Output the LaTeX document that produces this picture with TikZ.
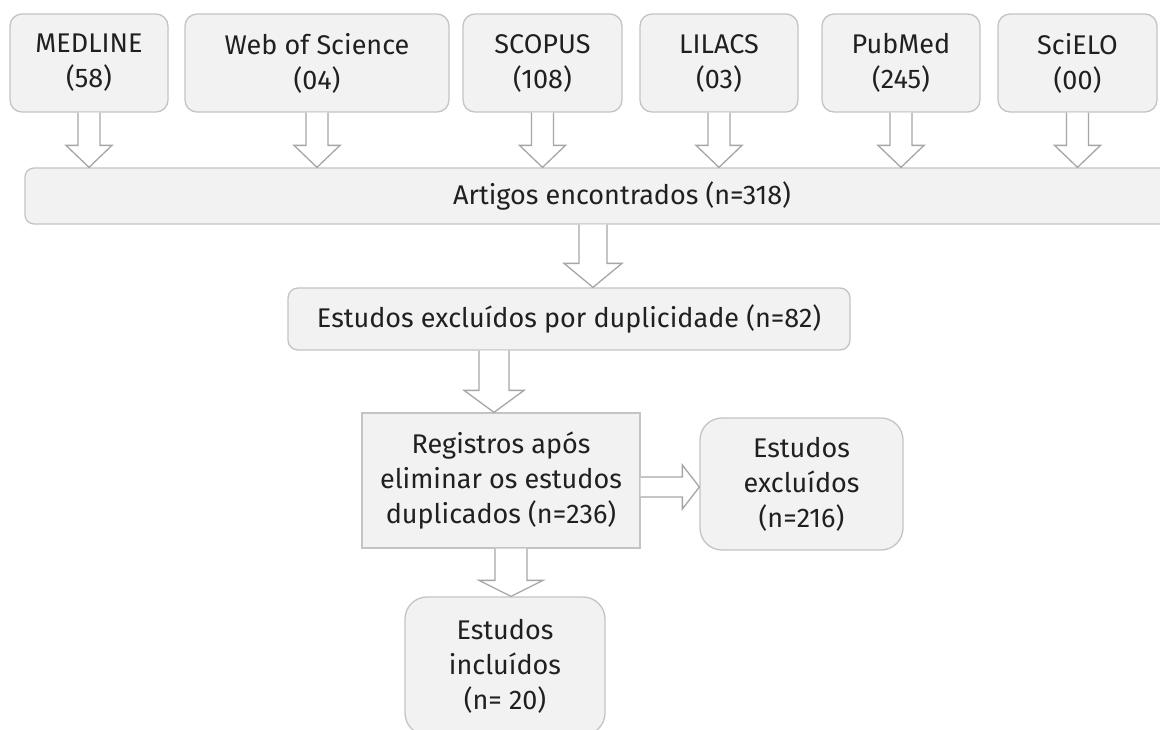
\documentclass[tikz,border=0pt]{standalone}
\usepackage{fontspec}
\setmainfont{Fira Sans}
\usetikzlibrary{calc}
\definecolor{boxfill}{HTML}{F2F2F2}
\definecolor{boxline}{HTML}{C4C4C4}
\definecolor{arrline}{HTML}{A6A6A6}
\definecolor{txt}{HTML}{202020}
\tikzset{
  box/.style={draw=boxline, fill=boxfill, line width=1.3pt, rounded corners=12pt,
    inner sep=0pt, align=center, text=txt, font=\fontsize{27}{35}\selectfont},
  barrow/.style={draw=arrline, fill=white, line width=1.3pt, line join=miter},
}
\newcommand\vblock[5]{% from, to, half shaft, half head, head length
  \path[barrow] ($(#1)+(-#3,0)$) -- ($(#2)+(-#3,-#5)$) -- ($(#2)+(-#4,-#5)$) -- (#2)
    -- ($(#2)+(#4,-#5)$) -- ($(#2)+(#3,-#5)$) -- ($(#1)+(#3,0)$);}
\newcommand\hblock[5]{% from, to, half shaft, half head, head length
  \path[barrow] ($(#1)+(0,-#3)$) -- ($(#2)+(-#5,-#3)$) -- ($(#2)+(-#5,-#4)$) -- (#2)
    -- ($(#2)+(-#5,#4)$) -- ($(#2)+(-#5,#3)$) -- ($(#1)+(0,#3)$);}
\begin{document}
\begin{tikzpicture}[x=1pt,y=-1pt]
\useasboundingbox (0,0) rectangle (1160,729);
\clip (0,0) rectangle (1160,729);
\fill[white] (0,0) rectangle (1160,729);
% sources
\node[box, minimum width=158pt, minimum height=98pt] (medline) at (89,63) {MEDLINE\\(58)};
\node[box, minimum width=264pt, minimum height=98pt] (wos) at (317,63) {Web of Science\\(04)};
\node[box, minimum width=159pt, minimum height=98pt] (scopus) at (542.5,63) {SCOPUS\\(108)};
\node[box, minimum width=158pt, minimum height=98pt] (lilacs) at (719,63) {LILACS\\(03)};
\node[box, minimum width=158pt, minimum height=98pt] (pubmed) at (901,63) {PubMed\\(245)};
\node[box, minimum width=159pt, minimum height=98pt] (scielo) at (1077.5,63) {SciELO\\(00)};
% flow boxes
\node[box, rounded corners=9pt, minimum width=1194pt, minimum height=56pt] (art) at (622,196) {Artigos encontrados (n=318)};
\node[box, rounded corners=10pt, minimum width=562pt, minimum height=62pt] (dup) at (569,319) {Estudos excluídos por duplicidade (n=82)};
\node[box, sharp corners, minimum width=278pt, minimum height=135pt] (reg) at (501,480.5) {Registros após\\eliminar os estudos\\duplicados (n=236)};
\node[box, rounded corners=22pt, minimum width=203pt, minimum height=132pt] (excl) at (801.5,484) {Estudos\\excluídos\\(n=216)};
\node[box, rounded corners=22pt, minimum width=200pt, minimum height=138pt] (incl) at (505,666) {Estudos\\incluídos\\(n= 20)};
% arrow end points
\coordinate (t1) at (medline.south |- art.north);
\coordinate (t2) at (wos.south |- art.north);
\coordinate (t3) at (scopus.south |- art.north);
\coordinate (t4) at (lilacs.south |- art.north);
\coordinate (t5) at (pubmed.south |- art.north);
\coordinate (t6) at (scielo.south |- art.north);
\coordinate (a2s) at (593,0 |- art.south);
\coordinate (a2e) at (593,0 |- dup.north);
\coordinate (a3s) at (494,0 |- dup.south);
\coordinate (a3e) at (494,0 |- reg.north);
\coordinate (a4s) at (reg.east |- 0,487);
\coordinate (a4e) at (excl.west |- 0,487);
\coordinate (a5s) at (511,0 |- reg.south);
\coordinate (a5e) at (511,0 |- incl.north);
% arrows
\vblock{medline.south}{t1}{11}{23}{22}
\vblock{wos.south}{t2}{11}{23}{22}
\vblock{scopus.south}{t3}{11}{23}{22}
\vblock{lilacs.south}{t4}{11}{23}{22}
\vblock{pubmed.south}{t5}{11}{23}{22}
\vblock{scielo.south}{t6}{11}{23}{22}
\vblock{a2s}{a2e}{14}{29}{24}
\vblock{a3s}{a3e}{15}{30}{22}
\hblock{a4s}{a4e}{10}{22}{17}
\vblock{a5s}{a5e}{16}{32}{16}
\end{tikzpicture}
\end{document}
